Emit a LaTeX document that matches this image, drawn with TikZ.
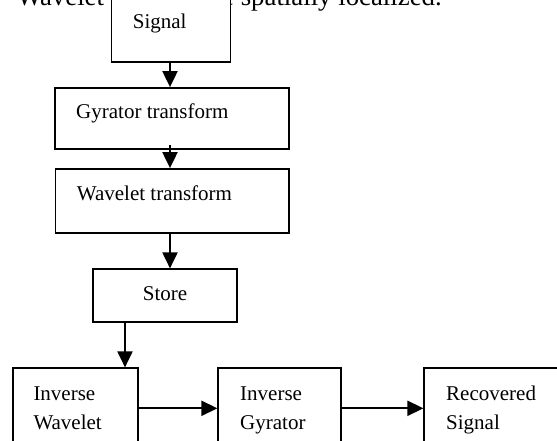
\documentclass[tikz,border=0pt]{standalone}
\usepackage{fontspec}
\setmainfont{Liberation Serif}
\usetikzlibrary{arrows.meta,calc}
\begin{document}
\begin{tikzpicture}[x=1pt,y=-1pt,
  box/.style={draw, line width=1.8pt, fill=white, rectangle, inner sep=0pt},
  lbl/.style={anchor=base west, inner sep=0pt, font=\fontsize{21pt}{25pt}\selectfont},
  toptxt/.style={anchor=base west, inner sep=0pt, font=\fontsize{26.8pt}{30pt}\selectfont},
  arr/.style={line width=2pt, -{Triangle[length=16pt,width=15pt]}}]
\useasboundingbox (0,0) rectangle (557,440);
\clip (0,0) rectangle (557,440);
% partially hidden running text
\node[toptxt] (t1) at (16.7,5) {Wavelet};
\node[toptxt] (t2) at (222,5) {e spatially localized.};
% boxes
\node[box, minimum width=119pt, minimum height=81.7pt] (sig) at (171,20.85) {};
\node[box, minimum width=234pt, minimum height=61.3pt] (gyr) at (172,118.65) {};
\node[box, minimum width=233.5pt, minimum height=64pt] (wav) at (172.2,201) {};
\node[box, minimum width=144pt, minimum height=52.4pt] (sto) at (164.7,295.5) {};
\node[box, minimum width=125.6pt, minimum height=92pt] (iw) at (75.5,414.3) {};
\node[box, minimum width=122.4pt, minimum height=92pt] (ig) at (279.5,414.3) {};
\node[box, minimum width=160pt, minimum height=92pt] (rs) at (504.3,414.3) {};
% labels
\node[lbl] (l1) at (132.7,28) {Signal};
\node[lbl] (l2) at (76,118) {Gyrator transform};
\node[lbl] (l3) at (76.7,200) {Wavelet transform};
\node[lbl] (l4) at (142.7,300.7) {Store};
\node[lbl] (l5) at (33.3,400) {Inverse};
\node[lbl] (l6) at (33.3,429) {Wavelet};
\node[lbl] (l7) at (240,400) {Inverse};
\node[lbl] (l8) at (240,429) {Gyrator};
\node[lbl] (l9) at (446,400) {Recovered};
\node[lbl] (l10) at (446,429) {Signal};
% connectors
\coordinate (a1) at ($(sig.south)+(-1,0)$);
\draw[arr] (a1) -- (a1 |- gyr.north);
\coordinate (a2) at ($(gyr.south)+(-2,-5)$);
\draw[arr] (a2) -- (a2 |- wav.north);
\coordinate (a3) at ($(wav.south)+(-2.2,0)$);
\draw[arr] (a3) -- (a3 |- sto.north);
\coordinate (a4) at ($(sto.south)+(-39.7,0)$);
\draw[arr] (a4) -- (a4 |- iw.north);
\coordinate (h1) at ($(iw.east)+(0,-6)$);
\draw[arr] (h1) -- (h1 -| ig.west);
\coordinate (h2) at ($(ig.east)+(0,-6)$);
\draw[arr] (h2) -- (h2 -| rs.west);
\end{tikzpicture}
\end{document}
